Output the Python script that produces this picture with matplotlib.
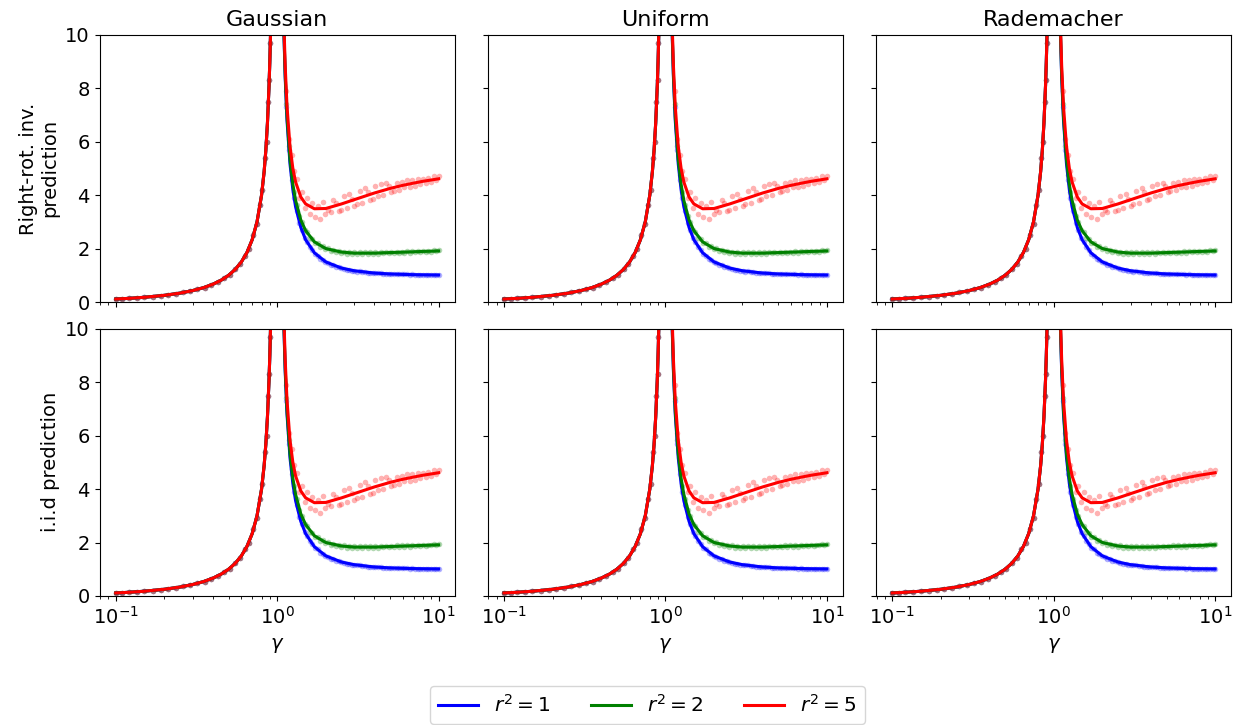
import matplotlib
matplotlib.use('Agg')
import matplotlib.pyplot as plt

plt.rcParams['font.size'] = 14

dists = ['Gaussian', 'Uniform', 'Rademacher']
row_labels = ['Right-rot. inv.\nprediction', 'i.i.d prediction']
r2_labels = ['$r^2 = 1$', '$r^2 = 2$', '$r^2 = 5$']
colors = ['blue', 'green', 'red']

# theory curves, left of the peak (same for every r^2)
g_left = [0.1, 0.12, 0.15, 0.2, 0.25, 0.3, 0.35, 0.4, 0.45, 0.5, 0.55, 0.6, 0.65,
          0.7, 0.75, 0.8, 0.83, 0.85, 0.87, 0.89, 0.9, 0.91, 0.92]
y_left = [0.111, 0.136, 0.176, 0.25, 0.333, 0.429, 0.538, 0.667, 0.818, 1.0, 1.222,
          1.5, 1.857, 2.333, 3.0, 4.0, 4.88, 5.667, 6.69, 8.09, 9.0, 10.11, 11.5]

# theory curves, right of the peak
g_right = [1.08, 1.1, 1.12, 1.15, 1.2, 1.25, 1.3, 1.4, 1.5, 1.7, 2.0, 2.5, 3.0,
           4.0, 5.0, 6.0, 7.0, 8.0, 10.0]
y_r1 = [12.57, 10.09, 8.44, 6.80, 5.17, 4.20, 3.56, 2.79, 2.33, 1.84, 1.50, 1.27,
        1.17, 1.083, 1.05, 1.033, 1.024, 1.018, 1.011]
y_r2 = [12.65, 10.18, 8.55, 6.93, 5.33, 4.40, 3.80, 3.07, 2.67, 2.25, 2.00, 1.87,
        1.83, 1.83, 1.85, 1.867, 1.88, 1.893, 1.911]
y_r5 = [12.87, 10.45, 8.87, 7.32, 5.83, 5.00, 4.49, 3.93, 3.67, 3.49, 3.50, 3.67,
        3.83, 4.08, 4.25, 4.367, 4.45, 4.518, 4.611]

# simulated points
s_left = [0.10, 0.11, 0.12, 0.135, 0.15, 0.17, 0.19, 0.21, 0.235, 0.26, 0.29, 0.32,
          0.355, 0.39, 0.43, 0.47, 0.51, 0.55, 0.59, 0.63, 0.67, 0.71, 0.75, 0.78,
          0.81, 0.84, 0.86, 0.88, 0.895, 0.905]
p_left = [0.11, 0.12, 0.14, 0.15, 0.18, 0.20, 0.24, 0.27, 0.30, 0.36, 0.40, 0.48,
          0.54, 0.65, 0.74, 0.90, 1.02, 1.25, 1.41, 1.74, 1.98, 2.52, 2.93, 3.62,
          4.18, 5.4, 6.0, 7.5, 8.3, 9.7]
s_right = [1.10, 1.14, 1.18, 1.23, 1.27, 1.32, 1.37, 1.42, 1.48, 1.53, 1.59, 1.65,
           1.71, 1.78, 1.85, 1.92, 1.99, 2.07, 2.15, 2.23, 2.31, 2.40, 2.49, 2.59,
           2.69, 2.79, 2.90, 3.01, 3.12, 3.24, 3.37, 3.50, 3.63, 3.77, 3.91, 4.06,
           4.22, 4.38, 4.55, 4.72, 4.90, 5.09, 5.28, 5.49, 5.70, 5.91, 6.14, 6.38,
           6.62, 6.87, 7.14, 7.41, 7.69, 7.99, 8.29, 8.61, 8.94, 9.29, 9.64, 10.0]
p_r1 = [10.05, 7.30, 5.68, 4.56, 3.90, 3.39, 2.95, 2.70, 2.39, 2.25, 2.05, 1.95,
        1.81, 1.74, 1.62, 1.58, 1.50, 1.46, 1.39, 1.38, 1.32, 1.31, 1.26, 1.25,
        1.21, 1.21, 1.17, 1.17, 1.14, 1.15, 1.12, 1.12, 1.10, 1.10, 1.08, 1.09,
        1.07, 1.07, 1.06, 1.06, 1.05, 1.05, 1.04, 1.05, 1.03, 1.04, 1.03, 1.03,
        1.02, 1.03, 1.02, 1.02, 1.02, 1.02, 1.01, 1.02, 1.01, 1.02, 1.01, 1.01]
p_r2 = [10.2, 7.42, 5.82, 4.76, 4.10, 3.64, 3.21, 3.01, 2.70, 2.62, 2.40, 2.36,
        2.21, 2.19, 2.06, 2.08, 1.97, 2.01, 1.90, 1.95, 1.86, 1.92, 1.84, 1.89,
        1.81, 1.88, 1.80, 1.87, 1.79, 1.86, 1.80, 1.87, 1.79, 1.86, 1.81, 1.87,
        1.80, 1.86, 1.82, 1.88, 1.82, 1.88, 1.83, 1.89, 1.84, 1.89, 1.85, 1.90,
        1.85, 1.91, 1.86, 1.91, 1.87, 1.92, 1.88, 1.92, 1.89, 1.93, 1.90, 1.93]
p_r5 = [10.3, 7.9, 6.1, 5.5, 4.9, 4.6, 3.9, 4.1, 3.5, 3.9, 3.3, 3.7,
        3.2, 3.6, 3.1, 3.75, 3.3, 3.45, 3.35, 3.8, 3.7, 3.4, 3.45, 3.95,
        3.5, 4.05, 3.85, 3.6, 3.65, 4.15, 3.7, 4.25, 4.1, 3.8, 3.85, 4.35,
        3.95, 4.4, 4.0, 4.45, 4.35, 4.1, 4.15, 4.45, 4.2, 4.5, 4.3, 4.55,
        4.3, 4.55, 4.35, 4.6, 4.4, 4.6, 4.45, 4.65, 4.5, 4.7, 4.55, 4.7]

lines_right = [y_r1, y_r2, y_r5]
points_right = [p_r1, p_r2, p_r5]

fig, axes = plt.subplots(2, 3, figsize=(12.45, 7.25), dpi=100, sharex=True, sharey=True)
plt.subplots_adjust(left=0.08, right=0.989, top=0.952, bottom=0.178, wspace=0.093, hspace=0.1)

for i in range(2):
    for j in range(3):
        ax = axes[i, j]
        for k in range(3):
            ax.scatter(s_left, p_left, s=16, color=colors[k], alpha=0.3, linewidths=0)
            ax.scatter(s_right, points_right[k], s=16, color=colors[k], alpha=0.3, linewidths=0)
        for k in range(3):
            ax.plot(g_left, y_left, color=colors[k], lw=2.2)
            ax.plot(g_right, lines_right[k], color=colors[k], lw=2.2, label=r2_labels[k])
        ax.set_xscale('log')
        ax.set_ylim(0, 10)
        if i == 0:
            ax.set_title(dists[j], fontsize=16)
        else:
            ax.set_xlabel(r'$\gamma$', labelpad=6)
        if j == 0:
            ax.set_ylabel(row_labels[i])

handles, labels = axes[0, 0].get_legend_handles_labels()
fig.legend(handles, labels, loc='center', ncol=3, bbox_to_anchor=(0.52, 0.028), fontsize=14.5)
plt.savefig('out.png')
